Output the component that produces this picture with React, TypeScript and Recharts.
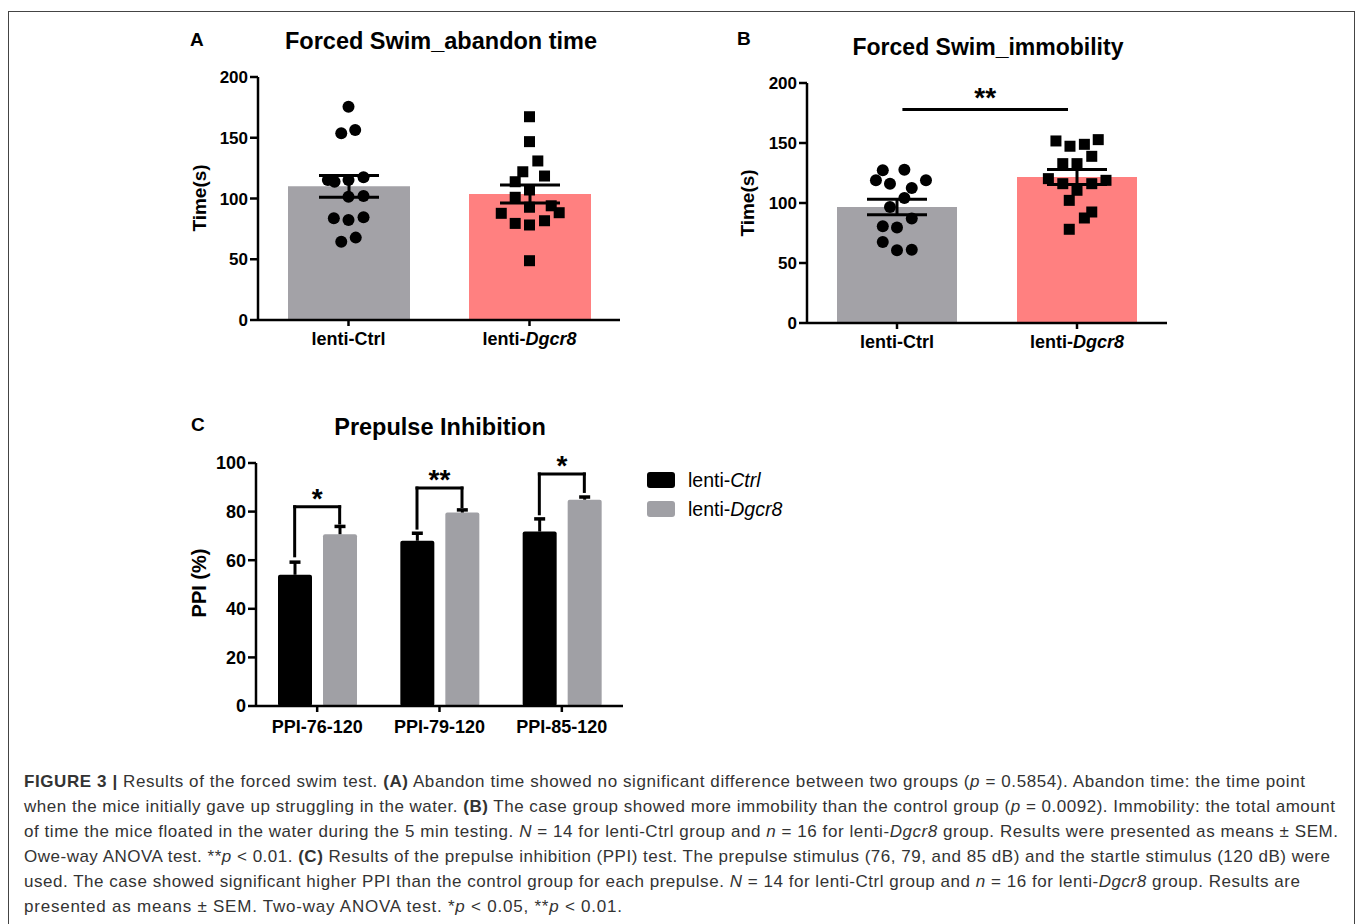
import React from 'react';
import { ComposedChart, Bar, Cell, Scatter, XAxis, YAxis, ErrorBar, ReferenceLine } from 'recharts';

const FONT = '"Liberation Sans", Arial, Helvetica, sans-serif';

// ---------- A / B : forced swim ----------
const groups = ['lenti-Ctrl', 'lenti-Dgcr8'];
const groupColors = ['#a3a2a7', '#ff8080'];
const timeTicks = [0, 50, 100, 150, 200];

// A: abandon time
const abandonMean = [110, 103.7];
const abandonSem = [9, 7.5];
const abandonCtrlY = [175.6, 153.7, 156.4, 115.2, 113.8, 115.2, 117.4, 101.5, 102, 83.7, 82.3, 84.5, 64.5, 67.8];
const abandonCtrlDx = [0, -0.04, 0.037, -0.114, -0.077, 0, 0.083, 0, 0.083, -0.081, 0, 0.083, -0.04, 0.04];
const abandonDgcrY = [167.3, 146.8, 130.9, 122, 118.5, 113.8, 107, 101, 92.8, 87.8, 88.3, 79.5, 78.2, 81.7, 48.8, 94];
const abandonDgcrDx = [0, 0, 0.046, -0.037, 0.083, -0.079, 0, -0.079, 0, -0.156, 0.164, -0.079, 0, 0.083, 0, 0.12];

// B: immobility
const immobMean = [96.7, 121.7];
const immobSem = [6.5, 6.2];
const immobCtrlY = [127.3, 127.8, 118.9, 116.1, 118.9, 112.5, 104.2, 96.7, 87, 80.6, 79.5, 67.5, 60.6, 61.1];
const immobCtrlDx = [-0.079, 0.041, -0.117, -0.039, 0.161, 0.082, 0.041, -0.039, 0.082, -0.079, 0, -0.079, 0, 0.082];
const immobDgcrY = [151.7, 147.3, 148.9, 152.8, 138.9, 132.8, 132.8, 120.3, 116.1, 110.6, 116.1, 118.9, 102.2, 92.5, 87.5, 78.1];
const immobDgcrDx = [-0.117, -0.039, 0.041, 0.118, 0.082, -0.079, 0, -0.159, -0.079, 0, 0.082, 0.161, -0.043, 0.082, 0.041, -0.043];
const immobSig = { from: 0.53, to: 1.45, y: 178, label: '**' };

// ---------- C : prepulse inhibition ----------
const ppiCats = ['PPI-76-120', 'PPI-79-120', 'PPI-85-120'];
const ppiTicks = [0, 20, 40, 60, 80, 100];
const ppiCtrl = [54, 68, 71.8];
const ppiCtrlSem = [5.2, 3.1, 5.2];
const ppiDgcr = [70.7, 79.6, 84.9];
const ppiDgcrSem = [3.2, 1.1, 1.1];
const bracketTop = [82, 89.7, 95.5];
const bracketLeft = [61.8, 73.2, 79.1];
const bracketRight = [75.3, 82.1, 88.3];
const bracketStars = ['*', '**', '*'];

const toPts = (center: number, dx: number[], ys: number[]) => ys.map((y, i) => ({ x: center + dx[i], y }));

const axisStroke = { stroke: '#000', strokeWidth: 2.5 };
const starStyle = { fill: '#000', fontSize: 28, fontWeight: 700, fontFamily: FONT };

const GroupTick = (props: any) => {
  const { x, y, payload } = props;
  const v = String(payload.value);
  return (
    <text x={x} y={y} dy={17} textAnchor="middle" fill="#000" fontFamily={FONT} fontSize={18} fontWeight={700}>
      {v === 'lenti-Dgcr8' ? (
        <>
          <tspan>lenti-</tspan>
          <tspan fontStyle="italic">Dgcr8</tspan>
        </>
      ) : (
        v
      )}
    </text>
  );
};

const Dot = (p: any) => <circle cx={p.cx} cy={p.cy} r={6} fill="#000" />;
const Sq = (p: any) => <rect x={p.cx - 5.5} y={p.cy - 5.5} width={11} height={11} fill="#000" />;

function SwimPanel({ box, mean, sem, ctrl, dgcr, sig }: any) {
  const data = groups.map((name, i) => ({ name, mean: mean[i], sem: sem[i] }));
  return (
    <div style={{ position: 'absolute', left: box.left, top: box.top }}>
      <ComposedChart width={box.width} height={box.height} data={data} margin={box.margin}>
        <XAxis
          dataKey="name"
          type="category"
          height={30}
          interval={0}
          axisLine={axisStroke}
          tickLine={axisStroke}
          tickSize={6}
          tickMargin={2}
          tick={<GroupTick />}
        />
        <XAxis xAxisId="pts" type="number" dataKey="x" domain={[0, 2]} allowDataOverflow hide />
        <YAxis
          domain={[0, 200]}
          ticks={timeTicks}
          width={box.yWidth}
          axisLine={axisStroke}
          tickLine={axisStroke}
          tickSize={8}
          tickMargin={2}
          tick={{ fill: '#000', fontSize: 17, fontWeight: 700, fontFamily: FONT }}
        />
        <Bar dataKey="mean" barSize={box.barSize} isAnimationActive={false}>
          {data.map((d, i) => (
            <Cell key={d.name} fill={groupColors[i]} />
          ))}
          <ErrorBar dataKey="sem" direction="y" width={30} strokeWidth={3} stroke="#000" />
        </Bar>
        <Scatter data={ctrl} xAxisId="pts" dataKey="y" shape={Dot} isAnimationActive={false} />
        <Scatter data={dgcr} xAxisId="pts" dataKey="y" shape={Sq} isAnimationActive={false} />
        {sig && (
          <ReferenceLine
            xAxisId="pts"
            segment={[
              { x: sig.from, y: sig.y },
              { x: sig.to, y: sig.y },
            ]}
            stroke="#000"
            strokeWidth={3}
            label={{ value: sig.label, position: 'top', offset: 2, ...starStyle }}
          />
        )}
      </ComposedChart>
    </div>
  );
}

const semBar = (key: string, semKey: string) => (p: any) => {
  const { x, y, width, height, fill, payload } = p;
  const perUnit = height / payload[key];
  const top = y - payload[semKey] * perUnit;
  const cx = x + width / 2;
  return (
    <g>
      <rect x={x} y={y} width={width} height={height} rx={2} fill={fill} />
      <line x1={cx} x2={cx} y1={y} y2={top} stroke="#000" strokeWidth={3} />
      <line x1={cx - 5.5} x2={cx + 5.5} y1={top} y2={top} stroke="#000" strokeWidth={3.5} />
    </g>
  );
};

const C_BOX = { left: 180, top: 410, width: 460, height: 330, margin: { top: 53, right: 17, bottom: 4, left: 0 }, yWidth: 76 };
const BAR_C = 34;
const GAP_C = 11;
const PLOT_C_W = C_BOX.width - C_BOX.margin.right - C_BOX.yWidth;
const PAIR_OFFSET = (BAR_C + GAP_C) / 2 / (PLOT_C_W / ppiCats.length);

function PpiPanel() {
  const data = ppiCats.map((name, i) => ({ name, pos: i + 0.5, ctrl: ppiCtrl[i], ctrlSem: ppiCtrlSem[i], dgcr: ppiDgcr[i], dgcrSem: ppiDgcrSem[i] }));
  const line = { stroke: '#000', strokeWidth: 3, strokeLinecap: 'square' as const };
  return (
    <div style={{ position: 'absolute', left: C_BOX.left, top: C_BOX.top }}>
      <ComposedChart width={C_BOX.width} height={C_BOX.height} data={data} margin={C_BOX.margin} barGap={GAP_C}>
        <XAxis
          dataKey="name"
          type="category"
          height={30}
          interval={0}
          axisLine={axisStroke}
          tickLine={axisStroke}
          tickSize={6}
          tickMargin={2}
          tick={{ fill: '#000', fontSize: 18, fontWeight: 700, fontFamily: FONT, dy: 6 }}
        />
        <XAxis xAxisId="num" type="number" dataKey="pos" domain={[0, ppiCats.length]} allowDataOverflow hide />
        <YAxis
          domain={[0, 100]}
          ticks={ppiTicks}
          width={C_BOX.yWidth}
          axisLine={axisStroke}
          tickLine={axisStroke}
          tickSize={8}
          tickMargin={2}
          tick={{ fill: '#000', fontSize: 18, fontWeight: 700, fontFamily: FONT }}
        />
        <Bar dataKey="ctrl" fill="#000" barSize={BAR_C} shape={semBar('ctrl', 'ctrlSem')} isAnimationActive={false} />
        <Bar dataKey="dgcr" fill="#a0a0a5" barSize={BAR_C} shape={semBar('dgcr', 'dgcrSem')} isAnimationActive={false} />
        {ppiCats.map((c, i) => {
          const l = i + 0.5 - PAIR_OFFSET;
          const r = i + 0.5 + PAIR_OFFSET;
          return [
            <ReferenceLine key={`${c}-l`} xAxisId="num" segment={[{ x: l, y: bracketLeft[i] }, { x: l, y: bracketTop[i] }]} {...line} />,
            <ReferenceLine
              key={`${c}-t`}
              xAxisId="num"
              segment={[{ x: l, y: bracketTop[i] }, { x: r, y: bracketTop[i] }]}
              {...line}
              label={{ value: bracketStars[i], position: 'top', offset: -1, ...starStyle }}
            />,
            <ReferenceLine key={`${c}-r`} xAxisId="num" segment={[{ x: r, y: bracketTop[i] }, { x: r, y: bracketRight[i] }]} {...line} />,
          ];
        })}
      </ComposedChart>
    </div>
  );
}

type Seg = [string, '' | 'b' | 'i'];
const captionLines: Seg[][] = [
  [['FIGURE 3 | ', 'b'], ['Results of the forced swim test. ', ''], ['(A)', 'b'], [' Abandon time showed no significant difference between two groups (', ''], ['p', 'i'], [' = 0.5854). Abandon time: the time point', '']],
  [['when the mice initially gave up struggling in the water. ', ''], ['(B)', 'b'], [' The case group showed more immobility than the control group (', ''], ['p', 'i'], [' = 0.0092). Immobility: the total amount', '']],
  [['of time the mice floated in the water during the 5 min testing. ', ''], ['N', 'i'], [' = 14 for lenti-Ctrl group and ', ''], ['n', 'i'], [' = 16 for lenti-', ''], ['Dgcr8', 'i'], [' group. Results were presented as means ± SEM.', '']],
  [['Owe-way ANOVA test. **', ''], ['p', 'i'], [' < 0.01. ', ''], ['(C)', 'b'], [' Results of the prepulse inhibition (PPI) test. The prepulse stimulus (76, 79, and 85 dB) and the startle stimulus (120 dB) were', '']],
  [['used. The case showed significant higher PPI than the control group for each prepulse. ', ''], ['N', 'i'], [' = 14 for lenti-Ctrl group and ', ''], ['n', 'i'], [' = 16 for lenti-', ''], ['Dgcr8', 'i'], [' group. Results are', '']],
  [['presented as means ± SEM. Two-way ANOVA test. *', ''], ['p', 'i'], [' < 0.05, **', ''], ['p', 'i'], [' < 0.01.', '']],
];
const captionWidths = [1281, 1311, 1314, 1306, 1276, 598];

export default function App() {
  return (
    <div style={{ position: 'relative', width: 1358, height: 924, overflow: 'hidden', background: '#fff', fontFamily: FONT }}>
      <style>{'html,body{margin:0;padding:0;overflow:hidden;background:#fff}'}</style>
      <SwimPanel
        box={{ left: 180, top: 20, width: 450, height: 350, margin: { top: 57, right: 10, bottom: 20, left: 0 }, yWidth: 78, barSize: 122 }}
        mean={abandonMean}
        sem={abandonSem}
        ctrl={toPts(0.5, abandonCtrlDx, abandonCtrlY)}
        dgcr={toPts(1.5, abandonDgcrDx, abandonDgcrY)}
      />
      <SwimPanel
        box={{ left: 730, top: 20, width: 450, height: 350, margin: { top: 63, right: 13, bottom: 17, left: 0 }, yWidth: 77, barSize: 120 }}
        mean={immobMean}
        sem={immobSem}
        ctrl={toPts(0.5, immobCtrlDx, immobCtrlY)}
        dgcr={toPts(1.5, immobDgcrDx, immobDgcrY)}
        sig={immobSig}
      />
      <PpiPanel />
      <svg width={1358} height={924} style={{ position: 'absolute', left: 0, top: 0, pointerEvents: 'none' }} fontFamily={FONT}>
        <rect x={8.5} y={11.5} width={1346} height={1000} fill="none" stroke="#444" strokeWidth={1} />
        {/* panel letters */}
        <text x={190} y={46} fontSize={19} fontWeight={700}>A</text>
        <text x={737} y={45} fontSize={19} fontWeight={700}>B</text>
        <text x={191} y={431} fontSize={19} fontWeight={700}>C</text>
        {/* titles */}
        <text x={441} y={48.5} fontSize={23.5} fontWeight={700} textAnchor="middle">Forced Swim_abandon time</text>
        <text x={988} y={55} fontSize={23} fontWeight={700} textAnchor="middle">Forced Swim_immobility</text>
        <text x={440} y={435} fontSize={23.5} fontWeight={700} textAnchor="middle">Prepulse Inhibition</text>
        {/* y axis titles */}
        <text transform="translate(206,198) rotate(-90)" fontSize={19} fontWeight={700} textAnchor="middle">Time(s)</text>
        <text transform="translate(754,203) rotate(-90)" fontSize={19} fontWeight={700} textAnchor="middle">Time(s)</text>
        <text transform="translate(205.5,583) rotate(-90)" fontSize={20} fontWeight={700} textAnchor="middle">PPI (%)</text>
        {/* legend for C */}
        <rect x={647} y={472} width={28} height={16} rx={3} fill="#000" />
        <rect x={647} y={501} width={28} height={16} rx={3} fill="#a0a0a5" />
        <text x={688} y={487} fontSize={19.5}>
          <tspan>lenti-</tspan>
          <tspan fontStyle="italic">Ctrl</tspan>
        </text>
        <text x={688} y={516} fontSize={19.5}>
          <tspan>lenti-</tspan>
          <tspan fontStyle="italic">Dgcr8</tspan>
        </text>
        {/* caption */}
        {captionLines.map((segs, li) => (
          <text
            key={li}
            x={24}
            y={787 + li * 25}
            fontSize={17}
            fill="#333"
            textLength={captionWidths[li]}
            lengthAdjust="spacing"
            style={{ whiteSpace: 'pre' }}
          >
            {segs.map(([t, s], si) => (
              <tspan key={si} fontWeight={s === 'b' ? 700 : 400} fontStyle={s === 'i' ? 'italic' : 'normal'}>
                {t}
              </tspan>
            ))}
          </text>
        ))}
      </svg>
    </div>
  );
}
